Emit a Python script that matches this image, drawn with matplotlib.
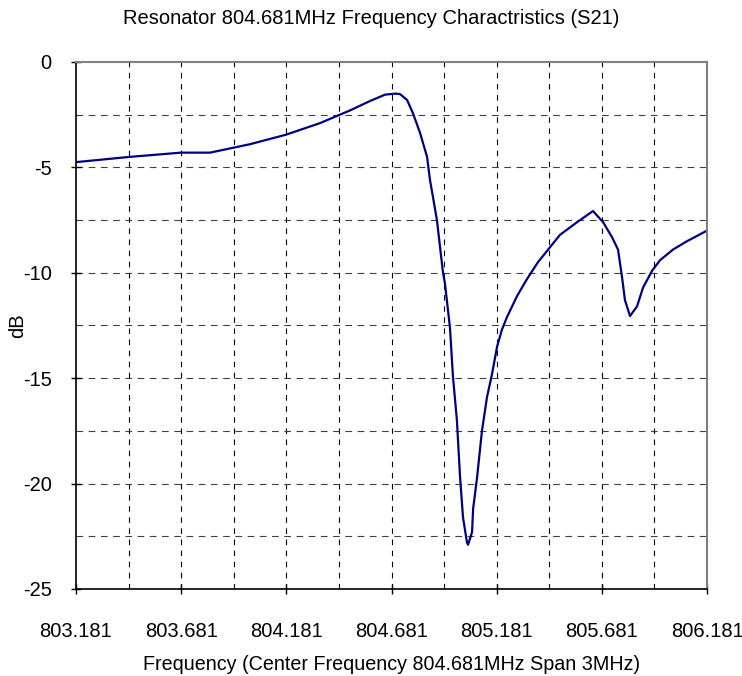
import numpy as np
import matplotlib.pyplot as plt

plt.rcParams['font.family'] = ['Liberation Sans', 'DejaVu Sans']
plt.rcParams['axes.unicode_minus'] = False

# S21 trace (MHz, dB)
freq = [803.181, 803.438, 803.680, 803.818, 804.008, 804.179, 804.341, 804.483,
        804.579, 804.650, 804.698, 804.721, 804.755, 804.783, 804.817, 804.850,
        804.864, 804.878, 804.897, 804.912, 804.926, 804.935, 804.959, 804.973,
        804.992, 805.007, 805.021, 805.040, 805.045, 805.064, 805.069, 805.088,
        805.111, 805.135, 805.159, 805.183, 805.206, 805.230, 805.278, 805.325,
        805.377, 805.482, 805.563, 805.639, 805.687, 805.729, 805.758, 805.777,
        805.791, 805.815, 805.848, 805.877, 805.920, 805.958, 806.019, 806.086,
        806.181]
s21 = [-4.75, -4.5, -4.3, -4.3, -3.9, -3.45, -2.9, -2.3,
       -1.85, -1.55, -1.5, -1.52, -1.8, -2.43, -3.37, -4.5,
       -5.6, -6.4, -7.5, -8.8, -10.0, -10.5, -12.6, -14.9,
       -17.0, -19.7, -21.6, -22.8, -22.9, -22.3, -21.2, -19.7,
       -17.5, -15.9, -14.8, -13.5, -12.7, -12.1, -11.1, -10.3,
       -9.5, -8.2, -7.6, -7.07, -7.6, -8.3, -8.9, -10.2,
       -11.3, -12.05, -11.6, -10.7, -9.9, -9.4, -8.9, -8.5,
       -8.0]

xticks = [803.181, 803.681, 804.181, 804.681, 805.181, 805.681, 806.181]
xtick_labels = ["803.181", "803.681", "804.181", "804.681", "805.181", "805.681", "806.181"]
yticks = [0, -5, -10, -15, -20, -25]

fig = plt.figure(figsize=(7.42, 6.76), dpi=100)
ax = fig.add_axes([76/742, 1 - 589/676, (707-76)/742, (589-62)/676])

# dashed grid every 0.25 MHz / 2.5 dB
for xv in np.arange(803.431, 806.0, 0.25):
    ax.axvline(xv, color="black", ls=(0, (5, 5)), lw=0.8, zorder=0)
for yv in np.arange(-22.5, 0, 2.5):
    ax.axhline(yv, color="#404040", ls=(0, (6, 5)), lw=0.8, zorder=0)

ax.plot(freq, s21, color="#000080", lw=1.6)

ax.set_xlim(803.181, 806.181)
ax.set_ylim(-25, 0)
ax.set_xticks(xticks)
ax.set_xticklabels(xtick_labels)
ax.set_yticks(yticks)
ax.tick_params(direction="inout", length=7, width=1, labelsize=14.5)
ax.tick_params(axis="x", pad=20)
ax.tick_params(axis="y", pad=14)

for s in ["left", "bottom"]:
    ax.spines[s].set_color("black")
    ax.spines[s].set_linewidth(1.2)
for s in ["top", "right"]:
    ax.spines[s].set_color("#808080")
    ax.spines[s].set_linewidth(1.5)

ax.set_xlabel("Frequency (Center Frequency 804.681MHz Span 3MHz)", fontsize=14.2, labelpad=10)
ax.set_ylabel("dB", fontsize=14.5)
ax.yaxis.set_label_coords(-0.078, 0.5)
fig.text(0.5, 1 - 19/676, "Resonator 804.681MHz Frequency Charactristics (S21)",
         ha="center", va="center", fontsize=14.5)

fig.savefig("out.png", dpi=100)
